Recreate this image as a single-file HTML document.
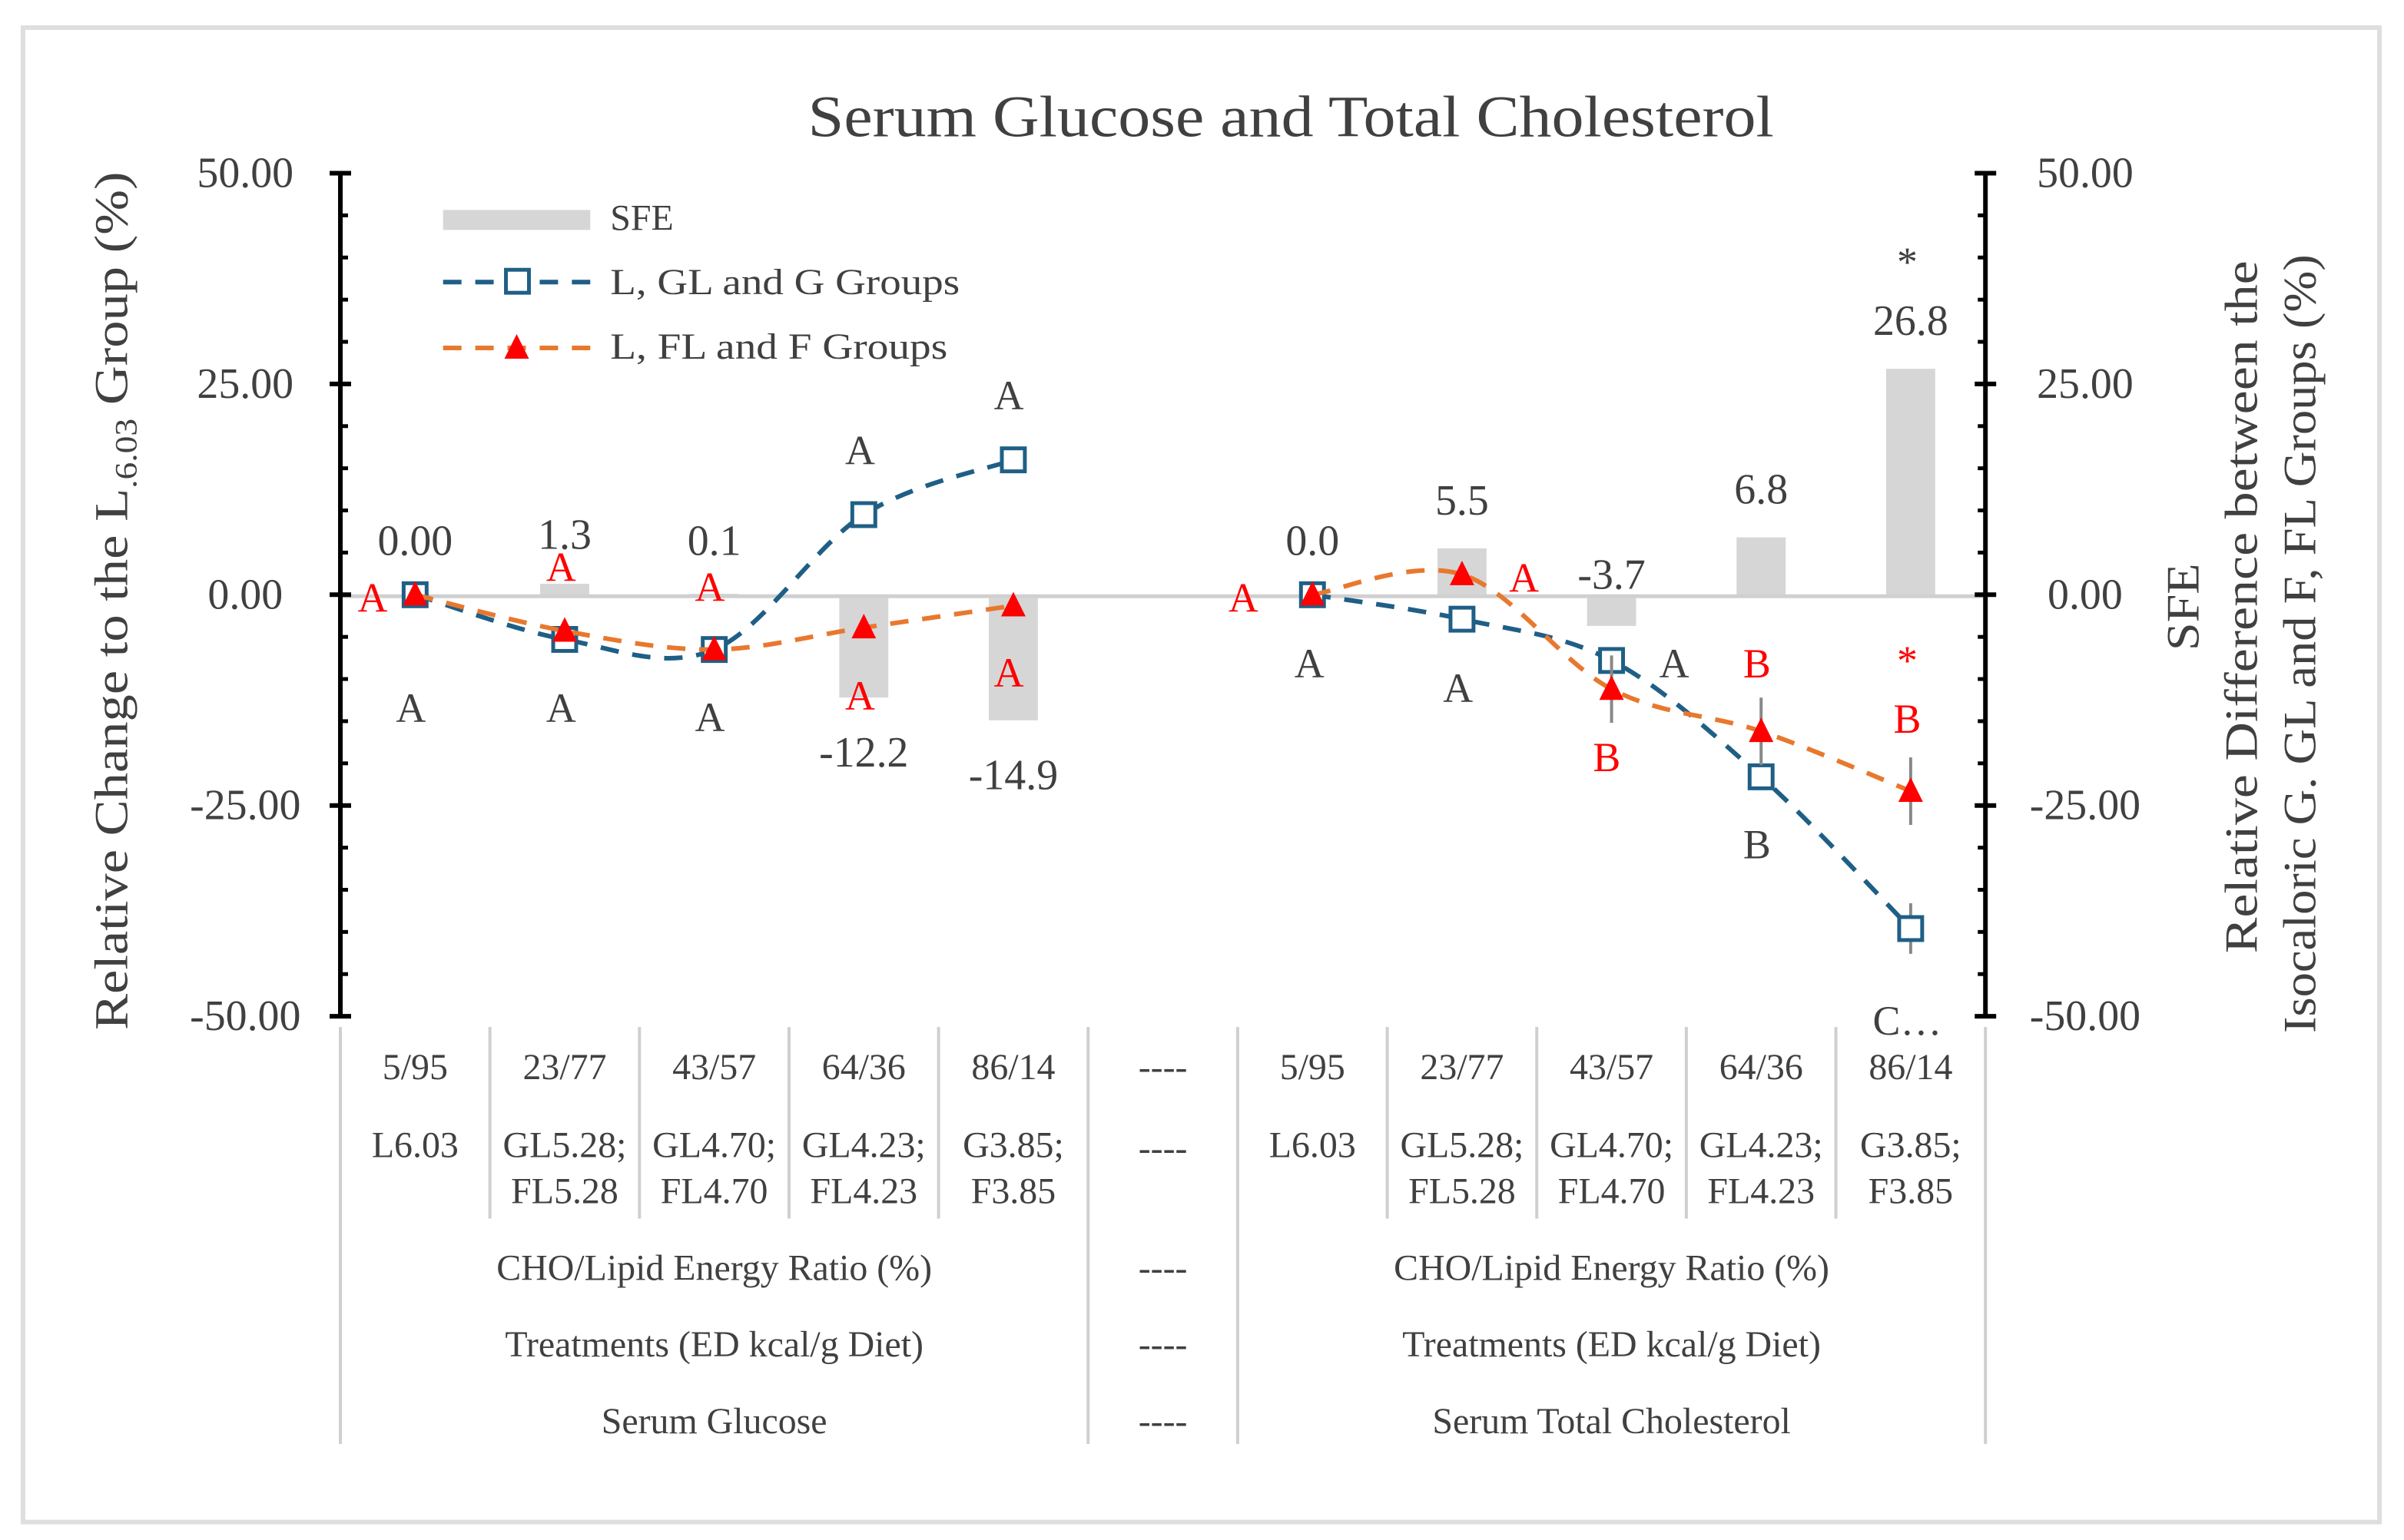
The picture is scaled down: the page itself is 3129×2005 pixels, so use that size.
<!DOCTYPE html>
<html><head><meta charset="utf-8"><style>
html,body{margin:0;padding:0;background:#fff;}
svg{display:block;}
text{font-family:"Liberation Serif",serif;}
</style></head><body>
<svg id="chart" width="3129" height="2005" viewBox="0 0 1568 1004.7" preserveAspectRatio="none" xmlns="http://www.w3.org/2000/svg">
<rect x="15" y="18" width="1537" height="975" fill="#fff" stroke="#dedede" stroke-width="3"/>
<text x="842" y="89" font-size="38" fill="#404040" text-anchor="middle" textLength="630" lengthAdjust="spacingAndGlyphs">Serum Glucose and  Total Cholesterol</text>
<g id="bars"></g>
<line x1="222" y1="389" x2="1295" y2="389" stroke="#d0d0d0" stroke-width="2.5"/>
<g id="axes"></g>
<g id="series"></g>
<g id="ann" font-size="27">
<text x="268" y="471" fill="#404040" text-anchor="middle">A</text>
<text x="366" y="471" fill="#404040" text-anchor="middle">A</text>
<text x="463" y="477" fill="#404040" text-anchor="middle">A</text>
<text x="561" y="303" fill="#404040" text-anchor="middle">A</text>
<text x="658" y="267" fill="#404040" text-anchor="middle">A</text>
<text x="243" y="399" fill="#ff0000" text-anchor="middle">A</text>
<text x="366" y="379" fill="#ff0000" text-anchor="middle">A</text>
<text x="463" y="392" fill="#ff0000" text-anchor="middle">A</text>
<text x="561" y="463" fill="#ff0000" text-anchor="middle">A</text>
<text x="658" y="448" fill="#ff0000" text-anchor="middle">A</text>
<text x="854" y="442" fill="#404040" text-anchor="middle">A</text>
<text x="951" y="458" fill="#404040" text-anchor="middle">A</text>
<text x="1092" y="442" fill="#404040" text-anchor="middle">A</text>
<text x="1146" y="560" fill="#404040" text-anchor="middle">B</text>
<text x="1244" y="675" fill="#404040" text-anchor="middle">C…</text>
<text x="811" y="399" fill="#ff0000" text-anchor="middle">A</text>
<text x="994" y="386" fill="#ff0000" text-anchor="middle">A</text>
<text x="1048" y="503" fill="#ff0000" text-anchor="middle">B</text>
<text x="1146" y="442" fill="#ff0000" text-anchor="middle">B</text>
<text x="1244" y="478" fill="#ff0000" text-anchor="middle">B</text>
<text x="1244" y="440" fill="#ff0000" text-anchor="middle">*</text>
<text x="1244" y="180" fill="#404040" text-anchor="middle">*</text>
</g>
<g font-size="24" fill="#404040">
<rect x="289" y="137" width="96" height="13" fill="#d6d6d6"/>
<text x="398" y="150">SFE</text>
<line x1="289" y1="184" x2="385" y2="184" stroke="#1f5f86" stroke-width="3" stroke-dasharray="12,9"/>
<rect x="330" y="176" width="15" height="15" fill="#fff" stroke="#1f5f86" stroke-width="2.5"/>
<text x="398" y="192" textLength="228" lengthAdjust="spacingAndGlyphs">L, GL and G Groups</text>
<line x1="289" y1="227" x2="385" y2="227" stroke="#e8782e" stroke-width="3" stroke-dasharray="12,9"/>
<polygon points="337,218 345,234 329,234" fill="#ff0000"/>
<text x="398" y="234" textLength="220" lengthAdjust="spacingAndGlyphs">L, FL and F Groups</text>
</g>
<text transform="translate(83,392) rotate(-90)" font-size="31" fill="#404040" text-anchor="middle" textLength="560" lengthAdjust="spacingAndGlyphs">Relative Change to the L<tspan font-size="20" dy="6">.6.03</tspan><tspan dy="-6"> Group (%)</tspan></text>
<text transform="translate(1434,396) rotate(-90)" font-size="30" fill="#404040" text-anchor="middle" textLength="57" lengthAdjust="spacingAndGlyphs">SFE</text>
<text transform="translate(1472,396) rotate(-90)" font-size="30" fill="#404040" text-anchor="middle" textLength="452" lengthAdjust="spacingAndGlyphs">Relative Difference between the</text>
<text transform="translate(1510,420) rotate(-90)" font-size="30" fill="#404040" text-anchor="middle" textLength="508" lengthAdjust="spacingAndGlyphs">Isocaloric G. GL and F, FL Groups (%)</text>
<g id="table" font-size="24" fill="#404040" text-anchor="middle"></g>
</svg>
<script>
const categories = ["5/95","23/77","43/57","64/36","86/14","----","5/95","23/77","43/57","64/36","86/14"];
const treatments1 = ["L6.03","GL5.28;","GL4.70;","GL4.23;","G3.85;","----","L6.03","GL5.28;","GL4.70;","GL4.23;","G3.85;"];
const treatments2 = ["","FL5.28","FL4.70","FL4.23","F3.85","","","FL5.28","FL4.70","FL4.23","F3.85"];
const gSeries = [0,-5.3,-6.5,9.5,16,null,0,-2.9,-7.8,-21.6,-39.6];
const fSeries = [0,-4.3,-6.5,-3.9,-1.3,null,0,2.4,-11.2,-16.2,-23.3];
const sfeValues = [0,1.3,0.1,-12.2,-14.9,null,0,5.5,-3.7,6.8,26.8];
const sfeLabels = ["0.00","1.3","0.1","-12.2","-14.9","","0.0","5.5","-3.7","6.8","26.8"];
const gErr = [0,0,0,0,0,null,0,0,0,0,3];
const fErr = [0,0,0,0,0,null,0,0,4,4,4];
const yTicks = [50,25,0,-25,-50];
const yTickLabels = ["50.00","25.00","0.00","-25.00","-50.00"];

const NS="http://www.w3.org/2000/svg";
const X0=222, X1=1295, YT=113, YB=663;
const step=(X1-X0)/categories.length;
function xPos(i){return X0+step*(i+0.5);}
function yPos(v){return YB-(v+50)/100*(YB-YT);}
function mk(tag,attrs,parent){const e=document.createElementNS(NS,tag);for(const k in attrs)e.setAttribute(k,attrs[k]);parent.appendChild(e);return e;}

const bars=document.getElementById('bars');
sfeValues.forEach((v,i)=>{
  if(v===null)return;
  const y0=yPos(0), y1=yPos(v);
  const r=mk('rect',{x:xPos(i)-16,y:Math.min(y0,y1),width:32,height:Math.max(Math.abs(y1-y0),0.5),fill:'#d6d6d6'},bars);
  
  
  let lyy = v>=0 ? Math.min(y1,yPos(0))-22 : y1+45;
  if(i===2) lyy=yPos(0)-26;
  if(i===8) lyy=yPos(0)-4;
  if(i===0||i===6) lyy=yPos(0)-26;
  if(i===1) lyy=yPos(0)-30;
  const t=mk('text',{x:xPos(i),y:lyy,'font-size':28,fill:'#404040','text-anchor':'middle'},bars);
  t.textContent=sfeLabels[i];
  
  
});

const ax=document.getElementById('axes');
[X0,X1].forEach((x,k)=>{
  const l=mk('line',{x1:x,y1:YT,x2:x,y2:YB,stroke:'#000','stroke-width':3},ax);
  
  
  for(let v=-50;v<=50;v+=5){
    const y=yPos(v);
    if(v%25===0) mk('line',{x1:x-7,y1:y,x2:x+7,y2:y,stroke:'#000','stroke-width':3},ax);
    else mk('line',{x1:x,y1:y,x2:k?x-5:x+5,y2:y,stroke:'#000','stroke-width':2.5},ax);
  }
  yTicks.forEach((v,j)=>{
    const t=mk('text',{x:k?x+65:x-62,y:yPos(v)+9,'font-size':28,fill:'#404040','text-anchor':'middle'},ax);
    t.textContent=yTickLabels[j];
    
    
  });
});

const ser=document.getElementById('series');
function smoothPath(pts){
  let d=`M${pts[0][0]},${pts[0][1]}`;
  for(let i=0;i<pts.length-1;i++){
    const p0=pts[i-1]||pts[i],p1=pts[i],p2=pts[i+1],p3=pts[i+2]||p2;
    const c1=[p1[0]+(p2[0]-p0[0])/6,p1[1]+(p2[1]-p0[1])/6];
    const c2=[p2[0]-(p3[0]-p1[0])/6,p2[1]-(p3[1]-p1[1])/6];
    d+=` C${c1[0]},${c1[1]} ${c2[0]},${c2[1]} ${p2[0]},${p2[1]}`;
  }
  return d;
}
function drawSeries(vals,errs,color,marker,name){
  const segs=[[]];
  vals.forEach((v,i)=>{if(v===null)segs.push([]);else segs[segs.length-1].push([xPos(i),yPos(v)]);});
  segs.forEach(s=>{if(s.length<2)return;
    const p=mk('path',{d:smoothPath(s),fill:'none',stroke:color,'stroke-width':3,'stroke-dasharray':'12,9'},ser);
    
    
  });
  vals.forEach((v,i)=>{
    if(v===null)return;
    const x=xPos(i),y=yPos(v);
    if(errs[i]){mk('line',{x1:x,y1:yPos(v+errs[i]),x2:x,y2:yPos(v-errs[i]),stroke:'#888','stroke-width':2},ser);}
    let m;
    if(marker==='sq') m=mk('rect',{x:x-7.5,y:y-7.5,width:15,height:15,fill:'#fff',stroke:color,'stroke-width':2.5},ser);
    else m=mk('polygon',{points:`${x},${y-9} ${x+8},${y+7} ${x-8},${y+7}`,fill:'#ff0000'},ser);
    
    
  });
}
drawSeries(gSeries,gErr,'#1f5f86','sq','g-groups');
drawSeries(fSeries,fErr,'#e8782e','tri','f-groups');

const tb=document.getElementById('table');
for(let i=0;i<=categories.length;i++){
  const x=X0+step*i;
  const full=(i===0||i===5||i===6||i===categories.length);
  mk('line',{x1:x,y1:670,x2:x,y2:full?942:795,stroke:'#cfcfcf','stroke-width':2},tb);
}
categories.forEach((c,i)=>{
  const t=mk('text',{x:xPos(i),y:704},tb);t.textContent=c;
  
  
  const a=mk('text',{x:xPos(i),y:i===5?757:755},tb);a.textContent=treatments1[i];
  
  
  if(treatments2[i]){const b=mk('text',{x:xPos(i),y:785},tb);b.textContent=treatments2[i];
    
    }
});
const rows=[["CHO/Lipid Energy Ratio (%)","CHO/Lipid Energy Ratio (%)",835],["Treatments (ED kcal/g Diet)","Treatments (ED kcal/g Diet)",885],["Serum Glucose","Serum Total Cholesterol",935]];
rows.forEach(r=>{
  const a=mk('text',{x:xPos(2),y:r[2]},tb);a.textContent=r[0];
  
  
  const d=mk('text',{x:xPos(5),y:r[2]},tb);d.textContent="----";
  
  
  const b=mk('text',{x:xPos(8),y:r[2]},tb);b.textContent=r[1];
  
  
});
</script>
</body></html>
